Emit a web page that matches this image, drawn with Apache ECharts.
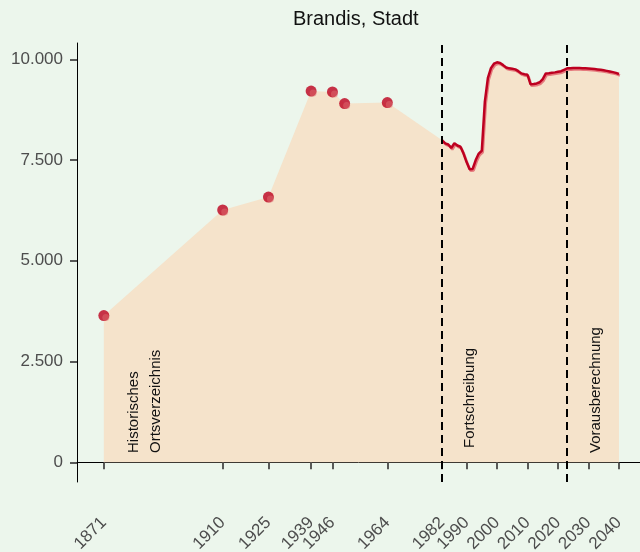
<!DOCTYPE html>
<html>
<head>
<meta charset="utf-8">
<script src="https://cdn.jsdelivr.net/npm/echarts@6/dist/echarts.min.js"></script>
<style>
  html, body { margin: 0; padding: 0; background: #ecf6ec; }
  #chart { width: 640px; height: 552px; }
</style>
</head>
<body>
<div id="chart"></div>
<script>
// Historisches Ortsverzeichnis
const histYears = [1871, 1910, 1925, 1939, 1946, 1950, 1964]
const histValues = [3640, 6260, 6580, 9210, 9190, 8900, 8925]

// Fortschreibung 1982 - 2022
const fortYears = [1982, 1983, 1984, 1985, 1986, 1987, 1988, 1989, 1990, 1991, 1992, 1993, 1994, 1995, 1996, 1997, 1998, 1999, 2000, 2001,
  2002, 2003, 2004, 2005, 2006, 2007, 2008, 2009, 2010, 2011, 2012, 2013, 2014, 2015, 2016, 2017, 2018, 2019, 2020, 2021, 2022]
const fortValues = [7990, 7915, 7885, 7800, 7915, 7860, 7830, 7660, 7450, 7270, 7280, 7500, 7660, 7730, 8950, 9540, 9780, 9890, 9925, 9910,
  9855, 9795, 9775, 9765, 9750, 9705, 9650, 9630, 9615, 9380, 9385, 9400, 9430, 9510, 9650, 9655, 9665, 9675, 9690, 9705, 9740]

// Vorausberechnung 2023 - 2040
const progYears = [2023, 2024, 2025, 2026, 2027, 2028, 2029, 2030, 2031, 2032, 2033, 2034, 2035, 2036, 2037, 2038, 2039, 2040]
const progValues = [9775, 9780, 9785, 9785, 9783, 9780, 9776, 9772, 9765, 9757, 9748, 9738, 9726, 9712, 9697, 9681, 9662, 9635]

// Achsen
const xTicks = [1871, 1910, 1925, 1939, 1946, 1964, 1982, 1990, 2000, 2010, 2020, 2030, 2040]
const yTicks = [0, 2500, 5000, 7500, 10000]
const breakYears = [1982, 2023]

const pairs = (xs, ys) => xs.map((x, i) => [x, ys[i]])
const histData = pairs(histYears, histValues)
const lineData = pairs(fortYears, fortValues).concat(pairs(progYears, progValues))
const areaData = histData.concat(lineData)

const fmt = v => String(v).replace(/\B(?=(\d{3})+(?!\d))/g, '.')

let myChart = echarts.init(document.getElementById('chart'))

let options = {
  backgroundColor: '#ecf6ec',
  animation: false,
  title: {
    text: 'Brandis, Stadt',
    left: 293,
    top: 9,
    padding: 0,
    textStyle: { fontFamily: 'Liberation Sans', fontSize: 20, fontWeight: 'normal', color: '#111' }
  },
  grid: { left: 77, right: 0, top: 43, bottom: 70, outerBoundsMode: 'none', containLabel: false },
  xAxis: {
    type: 'value',
    min: 1862.2,
    max: 2046.9,
    axisLine: { show: true, lineStyle: { color: '#000', width: 1 } },
    axisTick: { show: true, length: 7, customValues: xTicks, lineStyle: { color: '#333', width: 1.6 } },
    axisLabel: {
      customValues: xTicks,
      rotate: 45,
      margin: 38,
      fontFamily: 'Liberation Sans',
      fontSize: 17,
      color: '#4d4d4d',
      formatter: v => String(v)
    },
    splitLine: { show: false }
  },
  yAxis: {
    type: 'value',
    min: -489,
    max: 10404,
    axisLine: { show: true, lineStyle: { color: '#000', width: 1 } },
    axisTick: { show: true, length: 7, customValues: yTicks, lineStyle: { color: '#333', width: 1.6 } },
    axisLabel: {
      customValues: yTicks,
      margin: 14,
      fontFamily: 'Liberation Sans',
      fontSize: 17,
      color: '#4d4d4d',
      formatter: v => fmt(v)
    },
    splitLine: { show: false }
  },
  series: [
    {
      // Fläche unter allen Werten
      type: 'line',
      data: areaData,
      showSymbol: false,
      lineStyle: { width: 0 },
      areaStyle: { color: '#f5e3cb', opacity: 1, origin: 0 },
      z: 1,
      silent: true
    },
    {
      type: 'line',
      data: lineData,
      showSymbol: false,
      lineStyle: {
        color: '#bd0020',
        width: 2.5,
        shadowColor: 'rgba(225, 95, 105, 0.8)',
        shadowOffsetX: 1,
        shadowOffsetY: 1.5,
        shadowBlur: 0
      },
      z: 3,
      markLine: {
        silent: true,
        symbol: 'none',
        label: { show: false },
        lineStyle: { color: '#000', type: [8, 5], width: 2 },
        data: breakYears.map(y => ({ xAxis: y })),
        z: 4
      }
    },
    {
      type: 'scatter',
      data: histData,
      symbolSize: 11,
      itemStyle: { color: '#bd001d' },
      z: 5
    },
    {
      type: 'scatter',
      data: histData,
      symbolSize: 7,
      symbolOffset: [2, 2],
      itemStyle: { color: 'rgba(222, 110, 115, 0.6)' },
      z: 6
    }
  ]
}
myChart.setOption(options)

// senkrechte Beschriftungen der Abschnitte
const notes = [
  { text: 'Historisches\nOrtsverzeichnis', at: [1884.5, 230] },
  { text: 'Fortschreibung', at: [1991.1, 355] },
  { text: 'Vorausberechnung', at: [2032.5, 230] }
]
myChart.setOption({
  graphic: notes.map(n => {
    const p = myChart.convertToPixel({ gridIndex: 0 }, n.at)
    return {
      type: 'text',
      x: p[0],
      y: p[1],
      rotation: Math.PI / 2,
      z: 10,
      style: {
        text: n.text,
        fontFamily: 'Liberation Sans',
        fontSize: 15,
        lineHeight: 22,
        fill: '#111',
        align: 'left',
        verticalAlign: 'middle'
      }
    }
  })
})
</script>
</body>
</html>
